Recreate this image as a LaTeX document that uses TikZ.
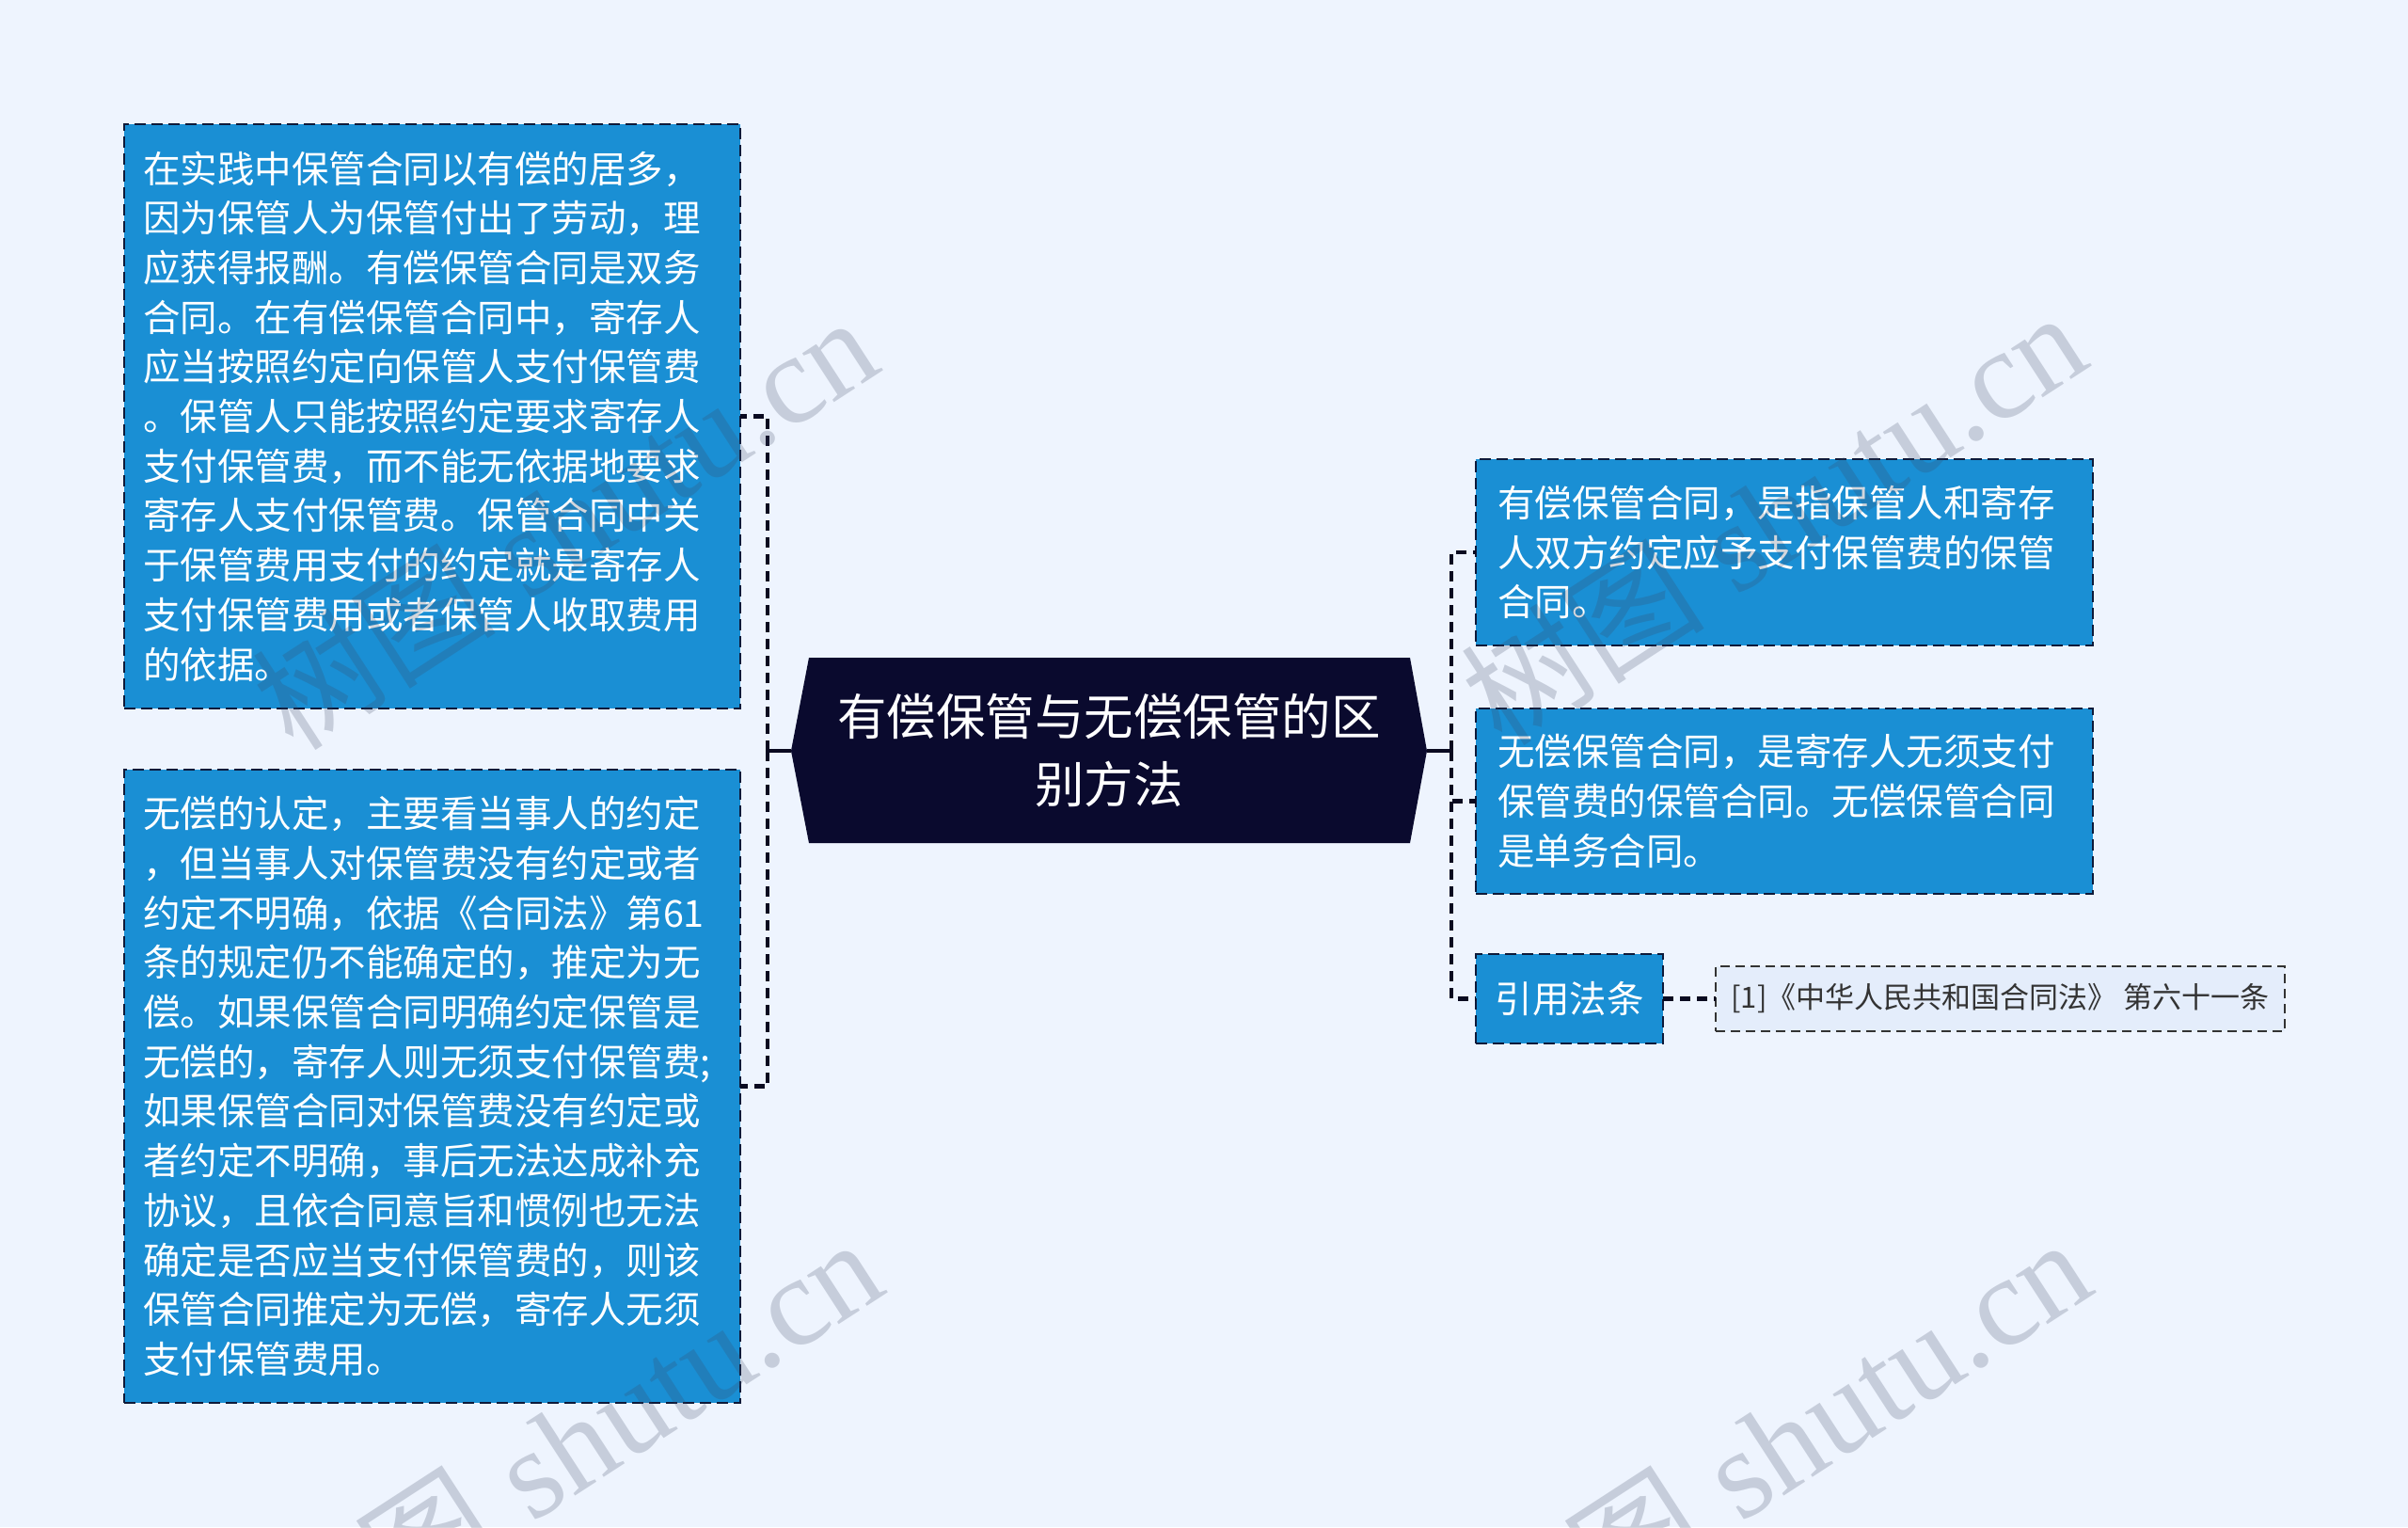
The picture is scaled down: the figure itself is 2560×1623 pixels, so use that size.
\documentclass[tikz,border=0pt]{standalone}
\usepackage{fontspec}
\newfontfamily\cjk{Noto Sans CJK SC}
\newfontfamily\wmlatin{Liberation Serif}
\usetikzlibrary{calc}
\definecolor{bgc}{HTML}{EEF4FE}
\definecolor{boxc}{HTML}{1A8FD4}
\definecolor{bordc}{HTML}{0E1A3A}
\definecolor{titlec}{HTML}{0A0A2E}
\definecolor{citec}{HTML}{E4EDFB}
\definecolor{citetext}{HTML}{333333}
\definecolor{connc}{HTML}{0A0A20}
\definecolor{wmc}{HTML}{3A4560}
\tikzset{
  leafbox/.style={draw=bordc, fill=boxc, line width=2.5pt, dash pattern=on 12pt off 6pt,
    text=white, font=\cjk\fontsize{39.5}{52.7}\selectfont, align=left,
    inner ysep=0pt, outer sep=0pt},
  titlenode/.style={draw=none, fill=none, text=white, align=center,
    font=\cjk\fontsize{52.5}{72}\selectfont, minimum width=676pt, minimum height=197pt,
    inner sep=0pt, outer sep=0pt},
  citebox/.style={draw=citetext, fill=citec, line width=2.2pt, dash pattern=on 10pt off 6pt,
    text=citetext, font=\cjk\fontsize{31}{40}\selectfont, inner sep=0pt, outer sep=0pt},
  conn/.style={draw=connc, line width=4.5pt, dash pattern=on 11pt off 7pt},
  solidconn/.style={draw=connc, line width=4.5pt},
  wmark/.style={text=wmc, text opacity=0.22, inner sep=0pt},
}
\begin{document}
\begin{tikzpicture}[x=1pt,y=-1pt]
\useasboundingbox (0,0) rectangle (2560,1623);
\fill[bgc] (0,0) rectangle (2560,1623);

% title hexagon
\fill[titlec] (841,798) -- (860,699) -- (1499,699) -- (1517,798) -- (1499,896) -- (860,896) -- cycle;
\node[titlenode] (root) at (1179,798) {有偿保管与无偿保管的区\\别方法};

% left boxes
\node[leafbox, inner xsep=20pt, text width=615pt, minimum height=621pt] (L1) at (459.5,442.5) {%
在实践中保管合同以有偿的居多，\\
因为保管人为保管付出了劳动，理\\
应获得报酬。有偿保管合同是双务\\
合同。在有偿保管合同中，寄存人\\
应当按照约定向保管人支付保管费\\
。保管人只能按照约定要求寄存人\\
支付保管费，而不能无依据地要求\\
寄存人支付保管费。保管合同中关\\
于保管费用支付的约定就是寄存人\\
支付保管费用或者保管人收取费用\\
的依据。};

\node[leafbox, inner xsep=20pt, text width=615pt, minimum height=673pt] (L2) at (459.5,1154.5) {%
无偿的认定，主要看当事人的约定\\
，但当事人对保管费没有约定或者\\
约定不明确，依据《合同法》第61\\
条的规定仍不能确定的，推定为无\\
偿。如果保管合同明确约定保管是\\
无偿的，寄存人则无须支付保管费;\\
如果保管合同对保管费没有约定或\\
者约定不明确，事后无法达成补充\\
协议，且依合同意旨和惯例也无法\\
确定是否应当支付保管费的，则该\\
保管合同推定为无偿，寄存人无须\\
支付保管费用。};

% right boxes
\node[leafbox, inner xsep=23pt, text width=610pt, minimum height=198pt] (R1) at (1897,587) {%
有偿保管合同，是指保管人和寄存\\
人双方约定应予支付保管费的保管\\
合同。};

\node[leafbox, inner xsep=23pt, text width=610pt, minimum height=197pt] (R2) at (1897,851.5) {%
无偿保管合同，是寄存人无须支付\\
保管费的保管合同。无偿保管合同\\
是单务合同。};

\node[leafbox, align=center, inner xsep=0pt, minimum width=199pt, minimum height=95pt] (R3) at (1668.5,1061.5) {引用法条};

\node[citebox, minimum width=605pt, minimum height=69pt] (cite) at (2126.5,1061.5) {[1]《中华人民共和国合同法》 第六十一条};

% connectors
\coordinate (lj) at (816,798);
\coordinate (rj) at (1543,798);
\draw[solidconn] (root.west) -- (lj);
\draw[conn] (lj) |- (L1.east);
\draw[conn] (lj) |- (L2.east);
\draw[solidconn] (root.east) -- (rj);
\draw[conn] (rj) |- (R1.west);
\draw[conn] (rj) |- (R2.west);
\draw[conn] (rj) |- (R3.west);
\draw[conn] (R3.east) -- (cite.west);

% watermarks
\foreach \p in {(600,555),(1885,550),(605,1535),(1890,1535)}{
  \node[wmark, rotate=33] at \p {{\cjk\fontsize{130}{140}\selectfont 树图}\hspace{35pt}{\wmlatin\fontsize{135}{150}\selectfont shutu.cn}};
}
\end{tikzpicture}
\end{document}
